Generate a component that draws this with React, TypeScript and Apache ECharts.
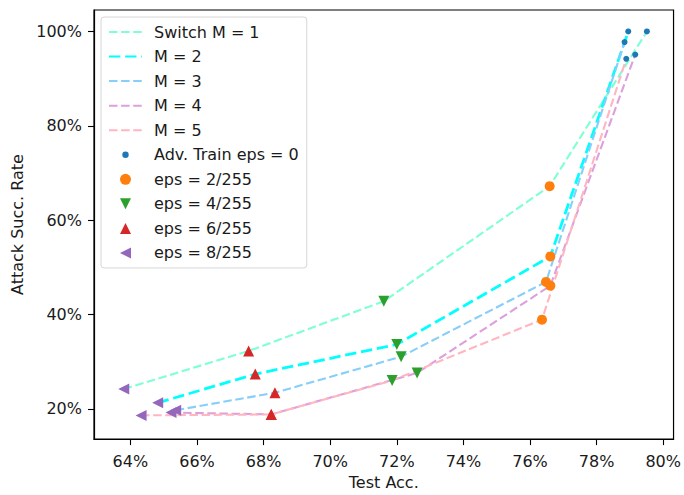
import React, { useEffect, useRef } from "react";
import * as echarts from "echarts";

// Test accuracy (%) and attack success rate (%) per Switch M, ordered eps = 8,6,4,2,0 (/255)
const accM1 = [63.8, 67.55, 71.61, 76.59, 79.51];
const asrM1 = [24.2, 32.25, 42.8, 67.2, 100];
const accM2 = [64.82, 67.75, 72.0, 76.61, 78.95];
const asrM2 = [21.26, 27.35, 33.65, 52.3, 100];
const accM3 = [65.36, 68.34, 72.13, 76.48, 78.84];
const asrM3 = [19.7, 23.4, 31.05, 46.9, 97.75];
const accM4 = [65.22, 68.23, 72.61, 76.61, 79.16];
const asrM4 = [19.2, 18.8, 27.6, 46.1, 95.1];
const accM5 = [64.32, 68.23, 71.86, 76.36, 78.89];
const asrM5 = [18.6, 18.8, 26.0, 38.9, 94.2];

const lineNames = ["Switch M = 1", "M = 2", "M = 3", "M = 4", "M = 5"];
const lineColors = ["#7fffd4", "#00ffff", "#87cefa", "#dda0dd", "#ffb6c1"];
const lineWidths = [2.1, 2.8, 2.1, 2.1, 2.1];

const epsNames = ["eps = 8/255", "eps = 6/255", "eps = 4/255", "eps = 2/255", "Adv. Train eps = 0"];
const epsColors = ["#9467bd", "#d62728", "#2ca02c", "#ff7f0e", "#1f77b4"];
const epsSymbols = ["triangle", "triangle", "triangle", "circle", "circle"];
const epsRotate = [90, 0, 180, 0, 0];
const epsSizes = [11, 11, 11, 10, 6];

const xTicks = [64, 66, 68, 70, 72, 74, 76, 78, 80];
const yTicks = [20, 40, 60, 80, 100];

const FONT = "DejaVu Sans";
const TXT = "#1a1a1a";

// legend icons (bounding box 33 x 11 so aspect handling never distorts them)
const BOX = "path://M0 0M33 11";
const iconDot = BOX + "M13.3 5.5A3.2 3.2 0 1 1 19.7 5.5A3.2 3.2 0 1 1 13.3 5.5Z";
const iconCircle = BOX + "M11 5.5A5.5 5.5 0 1 1 22 5.5A5.5 5.5 0 1 1 11 5.5Z";
const iconUp = BOX + "M16.5 0L22 11L11 11Z";
const iconDown = BOX + "M11 0L22 0L16.5 11Z";
const iconLeft = BOX + "M11 5.5L22 0L22 11Z";

export default function App() {
  const ref = useRef<HTMLDivElement>(null);
  useEffect(() => {
    if (!ref.current) return;
    const chart = echarts.init(ref.current, undefined, { renderer: "svg" });
    const accs = [accM1, accM2, accM3, accM4, accM5];
    const asrs = [asrM1, asrM2, asrM3, asrM4, asrM5];

    const lineSeries = lineNames.map((name, i) => ({
      name,
      type: "line",
      data: accs[i].map((a, j) => [a, asrs[i][j]]),
      symbol: "none",
      color: lineColors[i],
      lineStyle: {
        color: lineColors[i],
        width: lineWidths[i],
        type: [8.5 * lineWidths[i] / 2.1, 3.6 * lineWidths[i] / 2.1],
      },
      z: 2,
    }));

    const scatterSeries = epsNames.map((name, k) => ({
      name,
      type: "scatter",
      data: accs.map((a, i) => [a[k], asrs[i][k]]),
      symbol: epsSymbols[k],
      symbolRotate: epsRotate[k],
      symbolSize: epsSizes[k],
      itemStyle: { color: epsColors[k], opacity: 1 },
      z: 3,
    }));

    const legendOrder = [
      ...lineNames.map((n) => ({ name: n, itemStyle: { opacity: 0 } })),
      { name: epsNames[4], icon: iconDot },
      { name: epsNames[3], icon: iconCircle },
      { name: epsNames[2], icon: iconDown },
      { name: epsNames[1], icon: iconUp },
      { name: epsNames[0], icon: iconLeft },
    ];

    chart.setOption({
      animation: false,
      textStyle: { fontFamily: FONT },
      grid: {
        left: 94,
        right: 9,
        top: 10,
        bottom: 52,
        show: true,
        borderColor: "#000",
        borderWidth: 1.2,
        backgroundColor: "transparent",
      },
      legend: {
        orient: "vertical",
        left: 101,
        top: 17,
        padding: [7, 8, 7, 7],
        itemWidth: 33,
        itemHeight: 11,
        itemGap: 8.55,
        backgroundColor: "#fff",
        borderColor: "#d6d6d6",
        borderWidth: 1,
        borderRadius: 3,
        textStyle: {
          fontFamily: FONT,
          fontSize: 16,
          color: TXT,
          padding: [0, 0, 0, 7],
        },
        data: legendOrder,
      },
      xAxis: {
        type: "value",
        min: 62.907,
        max: 80.31,
        name: "Test Acc.",
        nameLocation: "middle",
        nameGap: 32,
        nameTextStyle: { fontFamily: FONT, fontSize: 16, color: TXT },
        axisLine: { show: true, lineStyle: { color: "#000", width: 1.2 } },
        axisTick: {
          show: true,
          length: 6,
          inside: false,
          lineStyle: { color: "#000", width: 1.1 },
          customValues: xTicks,
        },
        axisLabel: {
          fontFamily: FONT,
          fontSize: 16,
          color: TXT,
          margin: 14,
          customValues: xTicks,
          formatter: (v: number) => `${Math.round(v)}%`,
        },
        splitLine: { show: false },
      },
      yAxis: {
        type: "value",
        min: 13.57,
        max: 104.55,
        name: "Attack Succ. Rate",
        nameLocation: "middle",
        nameGap: 66,
        nameTextStyle: { fontFamily: FONT, fontSize: 16, color: TXT },
        axisLine: { show: true, lineStyle: { color: "#000", width: 1.2 } },
        axisTick: {
          show: true,
          length: 6,
          inside: false,
          lineStyle: { color: "#000", width: 1.1 },
          customValues: yTicks,
        },
        axisLabel: {
          fontFamily: FONT,
          fontSize: 16,
          color: TXT,
          margin: 12,
          customValues: yTicks,
          formatter: (v: number) => `${Math.round(v)}%`,
        },
        splitLine: { show: false },
      },
      series: [...lineSeries, ...scatterSeries],
    });
    return () => chart.dispose();
  }, []);
  return (
    <div
      ref={ref}
      style={{ position: "fixed", left: 0, top: 0, width: 684, height: 495, background: "#fff" }}
    />
  );
}
